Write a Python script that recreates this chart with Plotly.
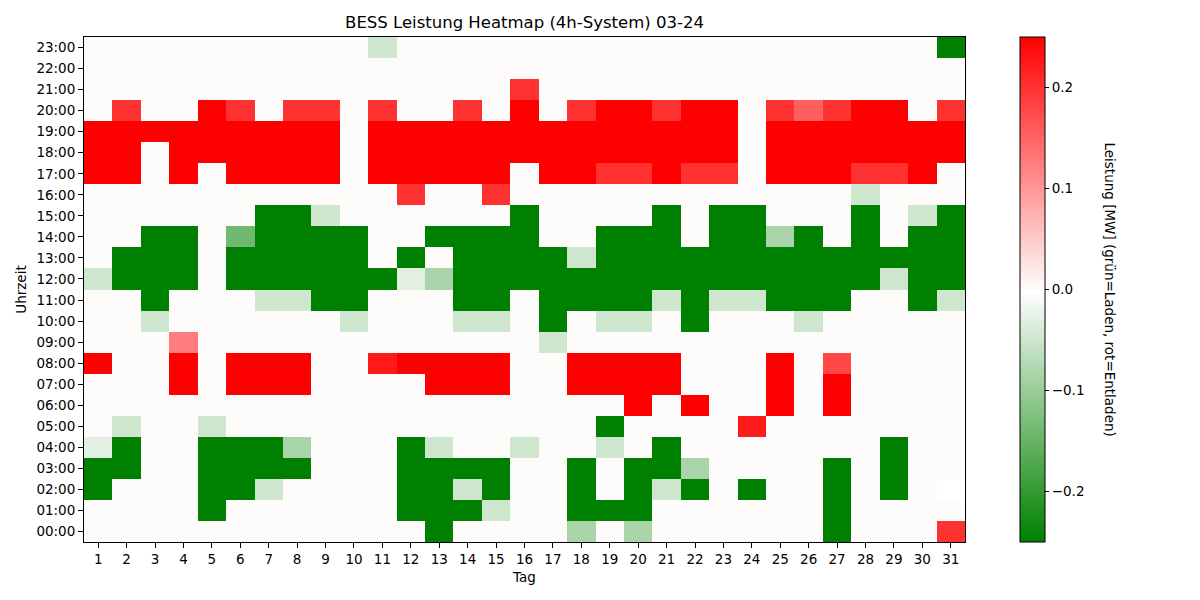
import numpy as np
import plotly.graph_objects as go

# Tage (Spalten) und Stunden (Zeilen)
tage = list(range(1, 32))
stunden = [f"{h:02d}:00" for h in range(24)]

G = -0.25   # volle Ladeleistung
R = 0.25    # volle Entladeleistung
nan = np.nan

# Leistung je Stunde, Tage 1..31
h00 = [0, 0, 0, 0, 0, 0, 0, 0, 0, 0, 0, 0, G, 0, 0, 0, 0, -0.085, 0, -0.085, 0, 0, 0, 0, 0, 0, G, 0, 0, 0, 0.2]
h01 = [0, 0, 0, 0, G, 0, 0, 0, 0, 0, 0, G, G, G, -0.05, 0, 0, G, G, G, 0, 0, 0, 0, 0, 0, G, 0, 0, 0, 0]
h02 = [G, 0, 0, 0, G, G, -0.05, 0, 0, 0, 0, G, G, -0.05, G, 0, 0, G, 0, G, -0.05, G, 0, G, 0, 0, G, 0, G, 0, nan]
h03 = [G, G, 0, 0, G, G, G, G, 0, 0, 0, G, G, G, G, 0, 0, G, 0, G, G, -0.085, 0, 0, 0, 0, G, 0, G, 0, 0]
h04 = [-0.03, G, 0, 0, G, G, G, -0.085, 0, 0, 0, G, -0.05, 0, 0, -0.05, 0, 0, -0.05, 0, G, 0, 0, 0, 0, 0, 0, 0, G, 0, 0]
h05 = [0, -0.05, 0, 0, -0.05, 0, 0, 0, 0, 0, 0, 0, 0, 0, 0, 0, 0, 0, G, 0, 0, 0, 0, 0.225, 0, 0, 0, 0, 0, 0, 0]
h06 = [0, 0, 0, 0, 0, 0, 0, 0, 0, 0, 0, 0, 0, 0, 0, 0, 0, 0, 0, R, 0, R, 0, 0, R, 0, R, 0, 0, 0, 0]
h07 = [0, 0, 0, R, 0, R, R, R, 0, 0, 0, 0, R, R, R, 0, 0, R, R, R, R, 0, 0, 0, R, 0, R, 0, 0, 0, 0]
h08 = [R, 0, 0, R, 0, R, R, R, 0, 0, 0.225, R, R, R, R, 0, 0, R, R, R, R, 0, 0, 0, R, 0, 0.18, 0, 0, 0, 0]
h09 = [0, 0, 0, 0.125, 0, 0, 0, 0, 0, 0, 0, 0, 0, 0, 0, 0, -0.05, 0, 0, 0, 0, 0, 0, 0, 0, 0, 0, 0, 0, 0, 0]
h10 = [0, 0, -0.05, 0, 0, 0, 0, 0, 0, -0.05, 0, 0, 0, -0.05, -0.05, 0, G, 0, -0.05, -0.05, 0, G, 0, 0, 0, -0.05, 0, 0, 0, 0, 0]
h11 = [0, 0, G, 0, 0, 0, -0.05, -0.05, G, G, 0, 0, 0, G, G, 0, G, G, G, G, -0.05, G, -0.05, -0.05, G, G, G, 0, 0, G, -0.05]
h12 = [-0.05, G, G, G, 0, G, G, G, G, G, G, -0.03, -0.085, G, G, G, G, G, G, G, G, G, G, G, G, G, G, G, -0.05, G, G]
h13 = [0, G, G, G, 0, G, G, G, G, G, 0, G, 0, G, G, G, G, -0.05, G, G, G, G, G, G, G, G, G, G, G, G, G]
h14 = [0, 0, G, G, 0, -0.14, G, G, G, G, 0, 0, G, G, G, G, 0, 0, G, G, G, 0, G, G, -0.085, G, 0, G, 0, G, G]
h15 = [0, 0, 0, 0, 0, 0, G, G, -0.05, 0, 0, 0, 0, 0, 0, G, 0, 0, 0, 0, G, 0, G, G, 0, 0, 0, G, 0, -0.05, G]
h16 = [0, 0, 0, 0, 0, 0, 0, 0, 0, 0, 0, 0.2, 0, 0, 0.2, 0, 0, 0, 0, 0, 0, 0, 0, 0, 0, 0, 0, -0.05, 0, 0, 0]
h17 = [R, R, 0, R, 0, R, R, R, R, 0, R, R, R, R, R, 0, R, R, 0.2, 0.2, R, 0.2, 0.2, 0, R, R, R, 0.2, 0.2, R, 0]
h18 = [R, R, 0, R, R, R, R, R, R, 0, R, R, R, R, R, R, R, R, R, R, R, R, R, 0, R, R, R, R, R, R, R]
h19 = [R, R, R, R, R, R, R, R, R, 0, R, R, R, R, R, R, R, R, R, R, R, R, R, 0, R, R, R, R, R, R, R]
h20 = [0, 0.2, 0, 0, R, 0.2, 0, 0.2, 0.2, 0, 0.2, 0, 0, 0.2, 0, R, 0, 0.2, R, R, 0.2, R, R, 0, 0.2, 0.155, 0.2, R, R, 0, 0.2]
h21 = [0, 0, 0, 0, 0, 0, 0, 0, 0, 0, 0, 0, 0, 0, 0, 0.2, 0, 0, 0, 0, 0, 0, 0, 0, 0, 0, 0, 0, 0, 0, 0]
h22 = [0] * 31
h23 = [0, 0, 0, 0, 0, 0, 0, 0, 0, 0, -0.05, 0, 0, 0, 0, 0, 0, 0, 0, 0, 0, 0, 0, 0, 0, 0, 0, 0, 0, 0, G]

z = np.array([h00, h01, h02, h03, h04, h05, h06, h07, h08, h09, h10, h11,
              h12, h13, h14, h15, h16, h17, h18, h19, h20, h21, h22, h23], dtype=float)

schrift = dict(family='DejaVu Sans', size=13.5, color='black')

# die Seite hat 8px Rand, deshalb alles um 8px verschoben
off = 8
plot_l, plot_r, plot_t, plot_b = 84 - off, 965 - off, 37 - off, 542 - off
plot_w = plot_r - plot_l

heatmap = go.Heatmap(
    x=tage,
    y=list(range(24)),
    z=z,
    zmin=-0.25,
    zmax=0.25,
    colorscale=[[0.0, '#008000'], [0.498, '#ffffff'], [0.5, '#fefcfa'], [1.0, '#ff0000']],
    colorbar=dict(
        x=(1020 - 84) / plot_w, xanchor='left', xref='paper', xpad=0,
        y=0.5, yanchor='middle', len=1.0, lenmode='fraction', ypad=0,
        thickness=25,
        outlinecolor='black', outlinewidth=1,
        tickvals=[-0.2, -0.1, 0.0, 0.1, 0.2],
        ticktext=['\u22120.2', '\u22120.1', '0.0', '0.1', '0.2'],
        ticks='outside', ticklen=4, tickcolor='black',
        tickfont=schrift,
    ),
    hovertemplate='Tag %{x}<br>%{y}<br>%{z:.3f} MW<extra></extra>',
)

fig = go.Figure(data=[heatmap])

fig.update_layout(
    width=1200,
    height=600,
    margin=dict(l=plot_l, r=1200 - plot_r, t=plot_t, b=600 - plot_b),
    paper_bgcolor='white',
    plot_bgcolor='white',
    font=schrift,
    title=dict(
        text='BESS Leistung Heatmap (4h-System) 03-24',
        x=(plot_l + plot_r) / 2 / 1200, xanchor='center',
        y=1 - (22 - off) / 600, yanchor='middle',
        font=dict(family='DejaVu Sans', size=16.5, color='black'),
    ),
    xaxis=dict(
        title=dict(text='Tag', font=schrift, standoff=6),
        range=[0.5, 31.5],
        tickmode='array', tickvals=tage, ticktext=[str(t) for t in tage],
        ticks='outside', ticklen=5, tickcolor='black',
        showline=True, linecolor='black', linewidth=1, mirror=True,
        showgrid=False, zeroline=False,
    ),
    yaxis=dict(
        title=dict(text='Uhrzeit', font=schrift, standoff=6),
        range=[-0.5, 23.5],
        tickmode='array', tickvals=list(range(24)), ticktext=stunden,
        ticks='outside', ticklen=5, tickcolor='black',
        showline=True, linecolor='black', linewidth=1, mirror=True,
        showgrid=False, zeroline=False,
    ),
    annotations=[dict(
        text='Leistung [MW] (grün=Laden, rot=Entladen)',
        xref='paper', yref='paper',
        x=(1110 - 84) / plot_w, y=0.5,
        xanchor='center', yanchor='middle',
        textangle=90, showarrow=False,
        font=schrift,
    )],
)

fig.write_html("out.html")
